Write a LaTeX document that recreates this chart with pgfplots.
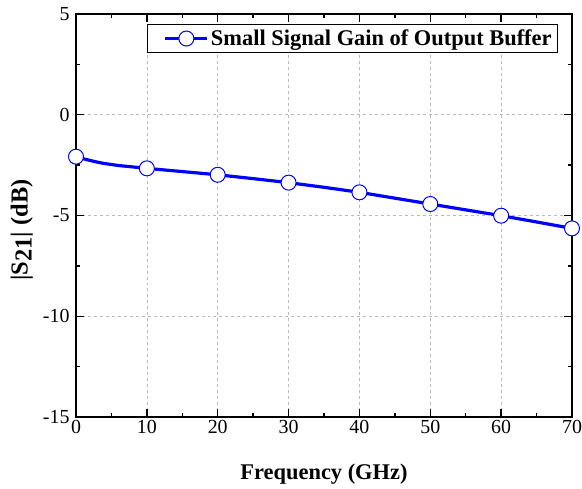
\documentclass[border=0pt]{standalone}
\usepackage{fontspec}
\setmainfont{Liberation Serif}
\usepackage{graphicx}
\usepackage{pgfplots}
\pgfplotsset{compat=1.18}
\pgfplotstableread{
x y
0 -2.08
1 -2.18
2 -2.27
3 -2.35
4 -2.42
5 -2.47
6 -2.52
8 -2.59
10 -2.66
15 -2.82
20 -2.98
25 -3.17
30 -3.37
35 -3.60
40 -3.85
45 -4.14
50 -4.43
55 -4.72
60 -5.01
65 -5.32
70 -5.64
}\gaindata
\begin{document}
\begin{tikzpicture}
\useasboundingbox (-76bp,-72bp) rectangle (506bp,417bp);
\begin{axis}[
  at={(0,0)}, anchor=south west,
  scale only axis,
  width=496bp, height=403bp,
  xmin=0, xmax=70, ymin=-15, ymax=5,
  xtick={0,10,...,70}, ytick={-15,-10,-5,0,5},
  minor x tick num=1, minor y tick num=1,
  tick align=inside,
  major tick length=8bp, minor tick length=4.5bp,
  every tick/.style={black, line width=1.3pt},
  axis line style={line width=1.6pt},
  grid=major,
  major grid style={dashed, gray!55, line width=0.6pt},
  /pgf/number format/assume math mode=true,
  ticklabel style={font=\fontsize{20}{24}\selectfont},
  yticklabel style={xshift=-3bp},
  xlabel={\textbf{Frequency (GHz)}},
  ylabel={\textbf{|S\raisebox{-4bp}{21}| (dB)}},
  every axis x label/.style={at={(axis description cs:0.5,0)}, anchor=base,
    yshift=-62bp, inner sep=0pt, font=\fontsize{22.5}{26}\selectfont},
  every axis y label/.style={at={(axis description cs:-0.0867,0.464)}, rotate=90,
    anchor=south, inner sep=0pt, font=\fontsize{24.5}{28}\selectfont},
  legend style={at={(1,1)}, anchor=north east, xshift=-14bp, yshift=-10bp,
    font=\fontsize{22.5}{26}\selectfont\bfseries, draw=black, line width=0.8pt,
    inner xsep=4bp, inner ysep=3.5bp},
  legend image code/.code={%
    \path[draw=none, fill=none] (0bp,-8bp) rectangle (56bp,8bp);
    \draw[#1] (14bp,0bp) -- (56bp,0bp);
    \path[draw=blue, fill=white, line width=1pt] (35bp,0bp) circle (7.5bp);
  },
  legend cell align=left,
  axis on top,
]
\addplot[blue, line width=3.2pt] table {\gaindata};
\addlegendentry{Small Signal Gain of Output Buffer}
\addplot[forget plot, only marks, mark=*, mark size=7.5bp,
  mark options={fill=white, draw=blue, line width=1pt, solid},
  mark indices={1,9,11,13,15,17,19,21}] table {\gaindata};
\end{axis}
\end{tikzpicture}
\end{document}
